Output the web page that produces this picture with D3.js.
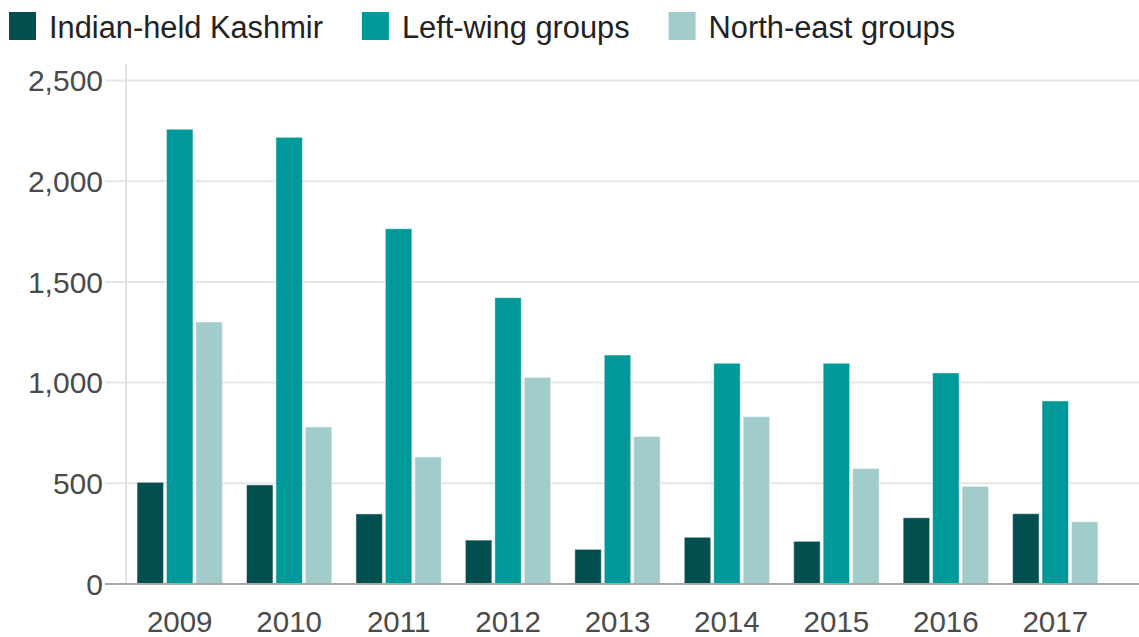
<!DOCTYPE html>
<html>
<head>
  <meta charset="utf-8">
  <script src="https://cdn.jsdelivr.net/npm/d3@7"></script>
  <style>
    body { margin: 0; background: #fff; }
    svg { display: block; font-family: "Liberation Sans", Arial, sans-serif; }
  </style>
</head>
<body>
<script>
  // data
  const years = ["2009", "2010", "2011", "2012", "2013", "2014", "2015", "2016", "2017"];
  const seriesNames = ["Indian-held Kashmir", "Left-wing groups", "North-east groups"];
  const kashmir = [505, 492, 348, 218, 172, 232, 212, 329, 349];
  const leftWing = [2258, 2218, 1764, 1422, 1137, 1096, 1096, 1048, 909];
  const northEast = [1301, 780, 631, 1026, 733, 831, 574, 485, 309];
  const yTicks = [0, 500, 1000, 1500, 2000, 2500];
  const colors = ["#034e4f", "#00999a", "#a2cccb"];

  const W = 1139, H = 637;
  const values = [kashmir, leftWing, northEast];
  const rows = years.map((y, i) => ({ year: y, vals: values.map(v => v[i]) }));

  const svg = d3.select("body").append("svg")
    .attr("width", W)
    .attr("height", H);

  const x = d3.scaleBand()
    .domain(years)
    .range([125, 1110])
    .paddingInner(0.22)
    .paddingOuter(0.11);

  const xSub = d3.scaleBand()
    .domain([0, 1, 2])
    .range([0, x.bandwidth()])
    .paddingInner(0.1);

  const y = d3.scaleLinear()
    .domain([0, 2500])
    .range([584, 80.5]);

  // gridlines + y labels
  const yAxis = svg.append("g");
  yAxis.selectAll("line")
    .data(yTicks.filter(d => d > 0))
    .enter()
    .append("line")
    .attr("x1", 105).attr("x2", W)
    .attr("y1", d => y(d)).attr("y2", d => y(d))
    .attr("stroke", "#e6e6e6")
    .attr("stroke-width", 2);

  // vertical axis line
  svg.append("line")
    .attr("x1", 126).attr("x2", 126)
    .attr("y1", 64).attr("y2", 584)
    .attr("stroke", "#e3e3e3")
    .attr("stroke-width", 2);

  yAxis.selectAll("text")
    .data(yTicks)
    .enter()
    .append("text")
    .attr("x", 103)
    .attr("y", d => y(d))
    .attr("dy", "0.36em")
    .attr("text-anchor", "end")
    .attr("font-size", "30px")
    .attr("fill", "#4a4a4a")
    .text(d => d3.format(",")(d));

  // bars
  const groups = svg.selectAll("g.year")
    .data(rows)
    .enter()
    .append("g")
    .attr("class", "year")
    .attr("transform", d => "translate(" + x(d.year) + ",0)");

  groups.selectAll("rect")
    .data(d => d.vals)
    .enter()
    .append("rect")
    .attr("x", (d, i) => xSub(i))
    .attr("y", d => y(d))
    .attr("width", xSub.bandwidth())
    .attr("height", d => y(0) - y(d))
    .attr("fill", (d, i) => colors[i])
    .attr("stroke", "#ffffff")
    .attr("stroke-opacity", 0.5)
    .attr("stroke-width", 1);

  // baseline
  svg.append("line")
    .attr("x1", 105).attr("x2", W)
    .attr("y1", y(0)).attr("y2", y(0))
    .attr("stroke", "#a8a8a8")
    .attr("stroke-width", 2);

  // x labels
  svg.selectAll("text.xlab")
    .data(years)
    .enter()
    .append("text")
    .attr("class", "xlab")
    .attr("x", d => x(d) + x.bandwidth() / 2)
    .attr("y", 632)
    .attr("text-anchor", "middle")
    .attr("font-size", "29.5px")
    .attr("fill", "#4a4a4a")
    .text(d => d);

  // legend
  const legend = svg.append("g");
  let lx = 9;
  seriesNames.forEach(function (name, i) {
    legend.append("rect")
      .attr("x", lx).attr("y", 12)
      .attr("width", 27).attr("height", 28)
      .attr("fill", colors[i]);
    const t = legend.append("text")
      .attr("x", lx + 40)
      .attr("y", 38)
      .attr("font-size", "30.8px")
      .attr("fill", "#222")
      .text(name);
    lx = lx + 40 + t.node().getComputedTextLength() + 39;
  });
</script>
</body>
</html>
